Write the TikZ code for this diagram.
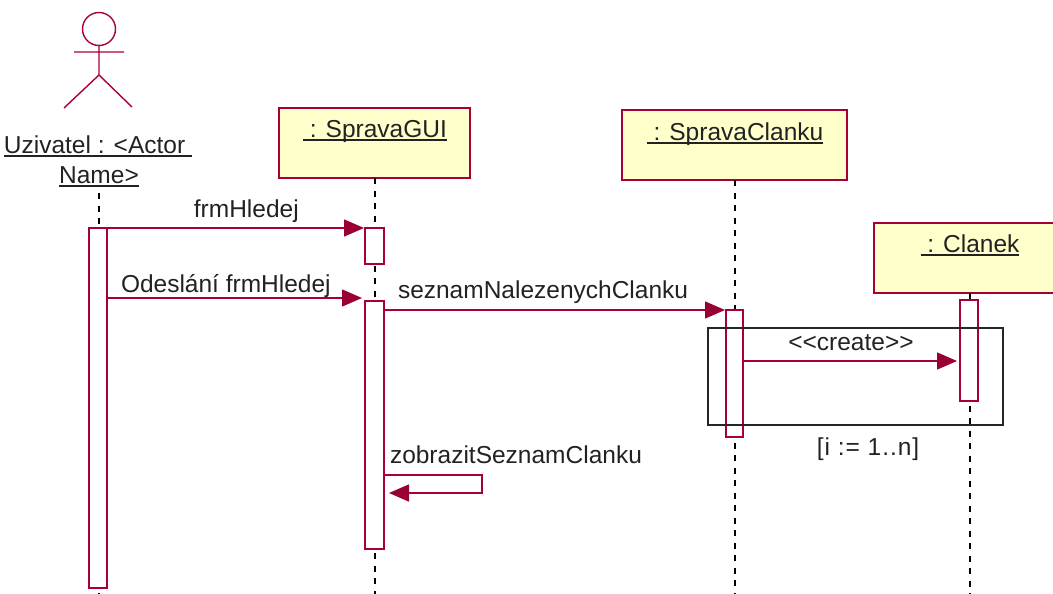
\documentclass[tikz,border=0pt]{standalone}
\usepackage{fontspec}
\setmainfont{Liberation Sans}
\usetikzlibrary{arrows.meta}
\definecolor{umlline}{HTML}{A80036}
\definecolor{umlhead}{HTML}{990033}
\definecolor{umlfill}{HTML}{FFFFCC}
\definecolor{umltext}{HTML}{222222}
\newcommand\ulin[1]{\setbox0=\hbox{#1}\rlap{\copy0}\rlap{\raisebox{-3.6pt}{\rule{\wd0}{1.5pt}}}\kern\wd0\relax}
\tikzset{
  x=1pt,y=-1pt,
  every node/.style={font=\fontsize{24.5}{29}\selectfont,text=umltext,inner sep=0pt,outer sep=0pt},
  objbox/.style={draw=umlline,fill=umlfill,line width=1.5pt,anchor=north west},
  objlabel/.style={anchor=base},
  bar/.style={draw=umlline,fill=white,line width=1.5pt,anchor=north west},
  lifeline/.style={draw=black,line width=1.3pt,dash pattern=on 6pt off 6.5pt},
  msg/.style={draw=umlline,line width=1.5pt,-{Triangle[length=20pt,width=17pt,fill=umlhead,color=umlhead]},shorten >=1pt},
  actorline/.style={draw=umlline,line width=1.4pt},
  frag/.style={draw=black!85,line width=1.3pt,anchor=north west},
  msglabel/.style={anchor=base west},
}
\begin{document}
\begin{tikzpicture}
\useasboundingbox (0,0) rectangle (1053,594);
% actor
\node[actorline,draw,circle,minimum size=33pt] (head) at (99,29) {};
\coordinate (armL) at (74,52); \coordinate (armR) at (124,52);
\coordinate (hip) at (99,75); \coordinate (legL) at (64,108); \coordinate (legR) at (132,107);
\draw[actorline] (head.south) -- (hip) (armL) -- (armR) (legL) -- (hip) -- (legR);
\node[objlabel] (actor1) at (98,153) {\ulin{Uzivatel : <Actor }};
\node[objlabel] (actor2) at (99,183) {\ulin{Name>}};
% object boxes
\node[objbox,minimum width=191pt,minimum height=70pt] (gui) at (279,108) {};
\node[objlabel] (guit) at (375,137) {\ulin{ : SpravaGUI}};
\node[objbox,minimum width=225pt,minimum height=70pt] (spr) at (622,110) {};
\node[objlabel] (sprt) at (735,140) {\ulin{ : SpravaClanku}};
\node[objbox,minimum width=185pt,minimum height=70pt] (cl) at (874,223) {};
\node[objlabel] (clt) at (970,252) {\ulin{ : Clanek}};
% lifeline ends
\coordinate (actorTop) at (99,193); \coordinate (actorBot) at (99,594);
\coordinate (guiBot) at (375,594); \coordinate (sprBot) at (735,594); \coordinate (clBot) at (970,594);
\coordinate (guiL) at (375,178); \coordinate (sprL) at (735,180); \coordinate (clL) at (970,293);
\draw[lifeline] (actorTop) -- (actorBot);
\draw[lifeline] (guiL) -- (guiBot);
\draw[lifeline] (sprL) -- (sprBot);
\draw[lifeline] (clL) -- (clBot);
% activation bars
\node[bar,minimum width=18pt,minimum height=360pt] (a1) at (89,228) {};
\node[bar,minimum width=19pt,minimum height=36pt] (g1) at (365,228) {};
\node[bar,minimum width=19pt,minimum height=248pt] (g2) at (365,301) {};
\node[bar,minimum width=17pt,minimum height=127pt] (s1) at (726,310) {};
\node[bar,minimum width=18pt,minimum height=101pt] (c1) at (960,300) {};
% loop frame
\node[frag,minimum width=295pt,minimum height=97pt] (loop) at (708,328) {};
\node[anchor=base] (cond) at (868,455) {\addfontfeature{LetterSpace=4}[i := 1..n]};
% messages
\draw[msg] (a1.north east) -- node[anchor=base,pos=0.54,yshift=11pt] (m1) {frmHledej} (g1.north west);
\coordinate (m2a) at (107,298); \coordinate (m2b) at (363,298);
\draw[msg] (m2a) -- (m2b);
\node[msglabel] (m2) at (121,292) {Odeslání frmHledej};
\coordinate (m3a) at (384,310); \coordinate (m3b) at (726,310);
\draw[msg] (m3a) -- (m3b);
\node[msglabel] (m3) at (398,298) {seznamNalezenychClanku};
\coordinate (m4a) at (743,361); \coordinate (m4b) at (958,361);
\draw[msg] (m4a) -- (m4b);
\node[anchor=base] (m4) at (851,350) {<{}<create>{}>};
\coordinate (m5a) at (384,475); \coordinate (m5c) at (482,475); \coordinate (m5d) at (482,493); \coordinate (m5b) at (388,493);
\draw[msg] (m5a) -- (m5c) -- (m5d) -- (m5b);
\node[msglabel] (m5) at (390,463) {zobrazitSeznamClanku};
\end{tikzpicture}
\end{document}
